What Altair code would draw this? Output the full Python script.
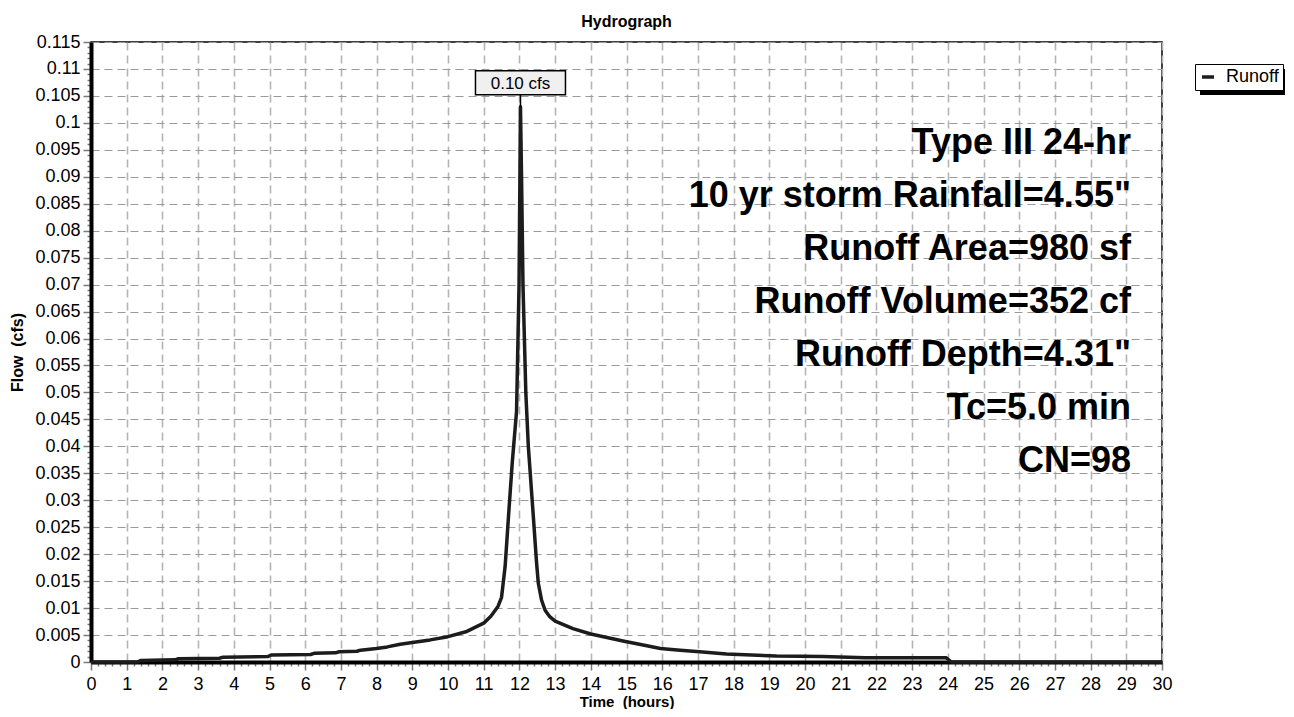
import altair as alt
import pandas as pd
import numpy as np

# ---------------- data ----------------
time_hr = [0.0, 1.3, 1.4, 2.35, 2.45, 3.6, 3.7, 4.95, 5.05, 6.15, 6.25, 6.85, 6.95,
           7.45, 7.55, 8.0, 8.3, 8.66, 9.0, 9.5, 10.0, 10.5, 11.0, 11.2, 11.4, 11.5,
           11.6, 11.7, 11.8, 11.92, 11.99, 12.03, 12.06, 12.1, 12.18, 12.25, 12.39,
           12.48, 12.53, 12.62, 12.72, 12.85, 13.0, 13.5, 14.0, 14.9, 15.5, 15.95,
           16.5, 17.05, 17.8, 18.5, 19.2, 20.5, 21.7, 23.95, 24.1, 30.0]
flow_cfs = [0.0, 0.0, 0.0003, 0.0004, 0.0006, 0.0007, 0.0009, 0.0010, 0.0013, 0.0014,
            0.0016, 0.0017, 0.0019, 0.0020, 0.0022, 0.0025, 0.0028, 0.0033, 0.0036,
            0.0041, 0.0047, 0.0056, 0.0072, 0.0085, 0.0103, 0.0120, 0.0177, 0.0275,
            0.0370, 0.0465, 0.0700, 0.1030, 0.0900, 0.0700, 0.0500, 0.0400, 0.0270,
            0.0185, 0.0146, 0.0115, 0.0096, 0.0084, 0.0076, 0.0062, 0.0052, 0.0039,
            0.0031, 0.0025, 0.0022, 0.0019, 0.0015, 0.0013, 0.0011, 0.0010, 0.0008,
            0.0008, 0.0, 0.0]
series_name = "Runoff"
peak_label = "0.10 cfs"
annotation_lines = ["Type III 24-hr", '10 yr storm Rainfall=4.55"', "Runoff Area=980 sf",
                    "Runoff Volume=352 cf", 'Runoff Depth=4.31"', "Tc=5.0 min", "CN=98"]
chart_title = "Hydrograph"
x_title = "Time \u00a0(hours)"
y_title = "Flow \u00a0(cfs)"
x_domain = [0, 30]
y_domain = [0, 0.115]

# ---------------- layout / style ----------------
W, H = 1071, 620
FONT = "Liberation Sans"

df = pd.DataFrame({"t": time_hr, "q": flow_cfs, "series": series_name})
pk = int(np.argmax(flow_cfs))
peak_df = pd.DataFrame({"t": [time_hr[pk]], "q": [flow_cfs[pk]], "label": [peak_label]})

x_ticks = [round(i * 0.2, 1) for i in range(151)]
y_ticks = [round(i * 0.001, 3) for i in range(116)]

x_major_test = "abs(datum.value - round(datum.value)) < 1e-6"
y_major_test = "abs(datum.value * 200 - round(datum.value * 200)) < 1e-6"

common_axis = dict(
    labelFont=FONT, labelFontSize=18, labelColor="black",
    labelOverlap=False, labelFlush=False, labelBound=False,
    titleFont=FONT, titleFontWeight="bold", titleColor="black",
    tickColor="#7a7a7a", tickWidth=1.5, tickCount=1000,
    domainColor="black", domainWidth=4,
    grid=True, gridDash=[8, 5],
)

x_axis = alt.Axis(
    values=x_ticks, format="~g",
    labelExpr=f"{x_major_test} ? datum.label : ''",
    tickSize={"condition": {"test": x_major_test, "value": 8}, "value": 4},
    gridOpacity={"condition": {"test": x_major_test, "value": 1}, "value": 0},
    gridColor="#b4b4b4", gridWidth=1.6, labelPadding=5,
    title=x_title, titleFontSize=15, titlePadding=1, **common_axis)

y_axis = alt.Axis(
    values=y_ticks, format="~g",
    labelExpr=f"{y_major_test} ? datum.label : ''",
    tickSize={"condition": {"test": y_major_test, "value": 8}, "value": 4},
    gridOpacity={"condition": {"test": y_major_test, "value": 1}, "value": 0},
    gridColor="#9a9a9a", gridWidth=1.2, labelPadding=3,
    title=y_title, titleFontSize=16, titlePadding=9, **common_axis)

x_scale = alt.Scale(domain=x_domain, nice=False, zero=False)
y_scale = alt.Scale(domain=y_domain, nice=False)

line = alt.Chart(df).mark_line(strokeWidth=3.5, strokeJoin="round").encode(
    x=alt.X("t:Q", scale=x_scale, axis=x_axis),
    y=alt.Y("q:Q", scale=y_scale, axis=y_axis),
    color=alt.Color("series:N", scale=alt.Scale(range=["#1c1c1c"]),
                    legend=alt.Legend(title=None, orient="none", legendX=1104, legendY=22,
                                      symbolType="stroke", symbolStrokeWidth=3.5,
                                      symbolSize=144, labelFont=FONT, labelFontSize=18,
                                      labelColor="black", labelOffset=9, padding=4,
                                      strokeColor="black", fillColor="white")),
)

shadow = alt.Chart(pd.DataFrame({"s": [0]})).mark_rect(color="black").encode(
    x=alt.value(1109), x2=alt.value(1201), y=alt.value(27), y2=alt.value(53))

leader = alt.Chart(peak_df).mark_rule(color="black", strokeWidth=1.5, y2Offset=-12).encode(
    x="t:Q", y="q:Q", y2="q")

box = alt.Chart(peak_df).mark_point(
    shape="M-1,-0.2667L1,-0.2667L1,0.2667L-1,0.2667Z", size=8100, filled=True,
    fill="#f0f0f0", stroke="black", strokeWidth=1.5, opacity=1, yOffset=-24,
).encode(x="t:Q", y="q:Q")

box_text = alt.Chart(peak_df).mark_text(
    font=FONT, fontSize=17, color="black", align="center", baseline="middle", yOffset=-23,
).encode(x="t:Q", y="q:Q", text="label:N")

ann_layers = []
for i, txt in enumerate(annotation_lines):
    ann_layers.append(
        alt.Chart(pd.DataFrame({"txt": [txt]})).mark_text(
            font=FONT, fontSize=36, fontWeight="bold", color="black",
            align="right", baseline="middle",
        ).encode(x=alt.value(1040), y=alt.value(101 + 53 * i), text="txt:N")
    )

chart = alt.layer(line, shadow, leader, box, box_text, *ann_layers).properties(
    width=W, height=H,
    title=alt.TitleParams(chart_title, font=FONT, fontSize=16, fontWeight="bold",
                          color="black", anchor="middle", offset=3),
    padding={"left": 83, "top": 34, "right": 123, "bottom": 47},
    autosize=alt.AutoSizeParams(type="none"),
).configure_view(stroke="black", strokeWidth=1.5)

chart.save("out.html", embed_options={"renderer": "svg", "actions": False})
